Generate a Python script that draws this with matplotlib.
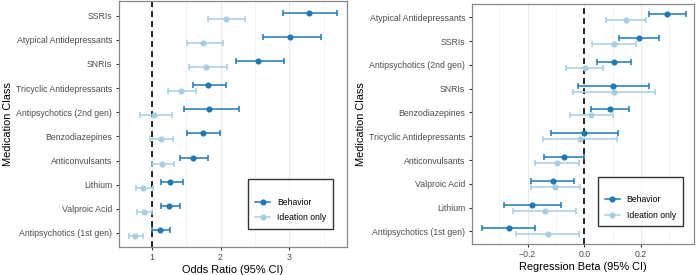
import matplotlib.pyplot as plt
from matplotlib.lines import Line2D
import numpy as np

plt.rcParams['font.family'] = ['Liberation Sans', 'DejaVu Sans']

# left panel: odds ratios, listed bottom -> top
or_classes = ['Antipsychotics (1st gen)', 'Valproic Acid', 'Lithium', 'Anticonvulsants',
              'Benzodiazepines', 'Antipsychotics (2nd gen)', 'Tricyclic Antidepressants',
              'SNRIs', 'Atypical Antidepressants', 'SSRIs']
or_beh = [1.12, 1.25, 1.27, 1.60, 1.74, 1.83, 1.82, 2.54, 3.01, 3.28]
or_beh_lo = [1.00, 1.13, 1.13, 1.41, 1.52, 1.47, 1.60, 2.22, 2.62, 2.91]
or_beh_hi = [1.26, 1.41, 1.45, 1.82, 1.99, 2.27, 2.08, 2.92, 3.46, 3.69]
or_ide = [0.75, 0.89, 0.88, 1.15, 1.13, 1.03, 1.42, 1.79, 1.75, 2.08]
or_ide_lo = [0.67, 0.78, 0.77, 1.00, 0.97, 0.83, 1.23, 1.54, 1.51, 1.82]
or_ide_hi = [0.87, 1.00, 1.02, 1.33, 1.31, 1.29, 1.65, 2.10, 2.04, 2.36]

# right panel: regression betas, listed bottom -> top
b_classes = ['Antipsychotics (1st gen)', 'Lithium', 'Valproic Acid', 'Anticonvulsants',
             'Tricyclic Antidepressants', 'Benzodiazepines', 'SNRIs',
             'Antipsychotics (2nd gen)', 'SSRIs', 'Atypical Antidepressants']
b_beh = [-0.267, -0.183, -0.112, -0.073, 0.000, 0.091, 0.101, 0.105, 0.192, 0.292]
b_beh_lo = [-0.362, -0.282, -0.188, -0.142, -0.118, 0.022, -0.024, 0.046, 0.124, 0.228]
b_beh_hi = [-0.173, -0.083, -0.036, -0.001, 0.119, 0.158, 0.227, 0.165, 0.262, 0.357]
b_ide = [-0.129, -0.140, -0.102, -0.095, -0.016, 0.025, 0.105, 0.001, 0.105, 0.146]
b_ide_lo = [-0.241, -0.251, -0.188, -0.173, -0.147, -0.050, -0.039, -0.065, 0.028, 0.076]
b_ide_hi = [-0.020, -0.028, -0.016, -0.018, 0.115, 0.102, 0.248, 0.067, 0.181, 0.218]

c_beh = '#1f78b4'
c_ide = '#a6cee3'
dodge = 0.125


def panel(ax, classes, beh, beh_lo, beh_hi, ide, ide_lo, ide_hi, ref, xlim, ylim,
          major, minor, xlabel):
    y = np.arange(1, len(classes) + 1)
    for vals, lo, hi, col, off in ((ide, ide_lo, ide_hi, c_ide, -dodge),
                                   (beh, beh_lo, beh_hi, c_beh, dodge)):
        vals = np.array(vals)
        err = [vals - np.array(lo), np.array(hi) - vals]
        ax.errorbar(vals, y + off, xerr=err, fmt='o', color=col, ms=3.4,
                    elinewidth=1.1, capsize=2.0, capthick=1.1, zorder=3)
    ax.axvline(ref, color='black', ls=(0, (3.5, 2.5)), lw=1.2, zorder=2)
    ax.set_xlim(*xlim)
    ax.set_ylim(*ylim)
    ax.set_yticks(y)
    ax.set_yticklabels(classes)
    ax.set_xticks(major)
    ax.set_xticks(minor, minor=True)
    ax.grid(axis='x', which='major', color='#ebebeb', lw=0.9, zorder=0)
    ax.grid(axis='x', which='minor', color='#f3f3f3', lw=0.6, zorder=0)
    ax.set_axisbelow(True)
    ax.tick_params(axis='both', which='major', labelsize=6.3, labelcolor='#4d4d4d',
                   color='#333333', length=2.5, width=0.8, pad=2)
    ax.tick_params(axis='x', which='minor', length=0)
    for s in ax.spines.values():
        s.set_color('#888888')
        s.set_linewidth(0.9)
    ax.set_xlabel(xlabel, fontsize=7.9, labelpad=2.5)
    ax.set_ylabel('Medication Class', fontsize=7.9, labelpad=2)
    handles = [Line2D([], [], color=c_beh, marker='o', ms=3.4, lw=1.1),
               Line2D([], [], color=c_ide, marker='o', ms=3.4, lw=1.1)]
    leg = ax.legend(handles, ['Behavior', 'Ideation only'], loc='lower left',
                    bbox_to_anchor=(0.567, 0.072), fontsize=6.2, frameon=True,
                    fancybox=False, edgecolor='black', borderpad=0.8,
                    title=' ', title_fontsize=4.5,
                    handlelength=1.8, handletextpad=0.75, labelspacing=0.75,
                    borderaxespad=0)
    leg.get_frame().set_linewidth(1.0)


fig = plt.figure(figsize=(7, 2.75), dpi=100)
ax1 = fig.add_axes([0.1693, 0.1029, 0.3264, 0.8935])
ax2 = fig.add_axes([0.6736, 0.1138, 0.3179, 0.8716])

panel(ax1, or_classes, or_beh, or_beh_lo, or_beh_hi, or_ide, or_ide_lo, or_ide_hi,
      1.0, (0.517, 3.839), (0.43, 10.61), [1, 2, 3], [1.5, 2.5, 3.5],
      'Odds Ratio (95% CI)')
panel(ax2, b_classes, b_beh, b_beh_lo, b_beh_hi, b_ide, b_ide_lo, b_ide_hi,
      0.0, (-0.398, 0.387), (0.48, 10.56), [-0.2, 0.0, 0.2], [-0.3, -0.1, 0.1, 0.3],
      'Regression Beta (95% CI)')
ax2.set_xticklabels(['\u22120.2', '0.0', '0.2'])

fig.savefig('out.png', dpi=100)
